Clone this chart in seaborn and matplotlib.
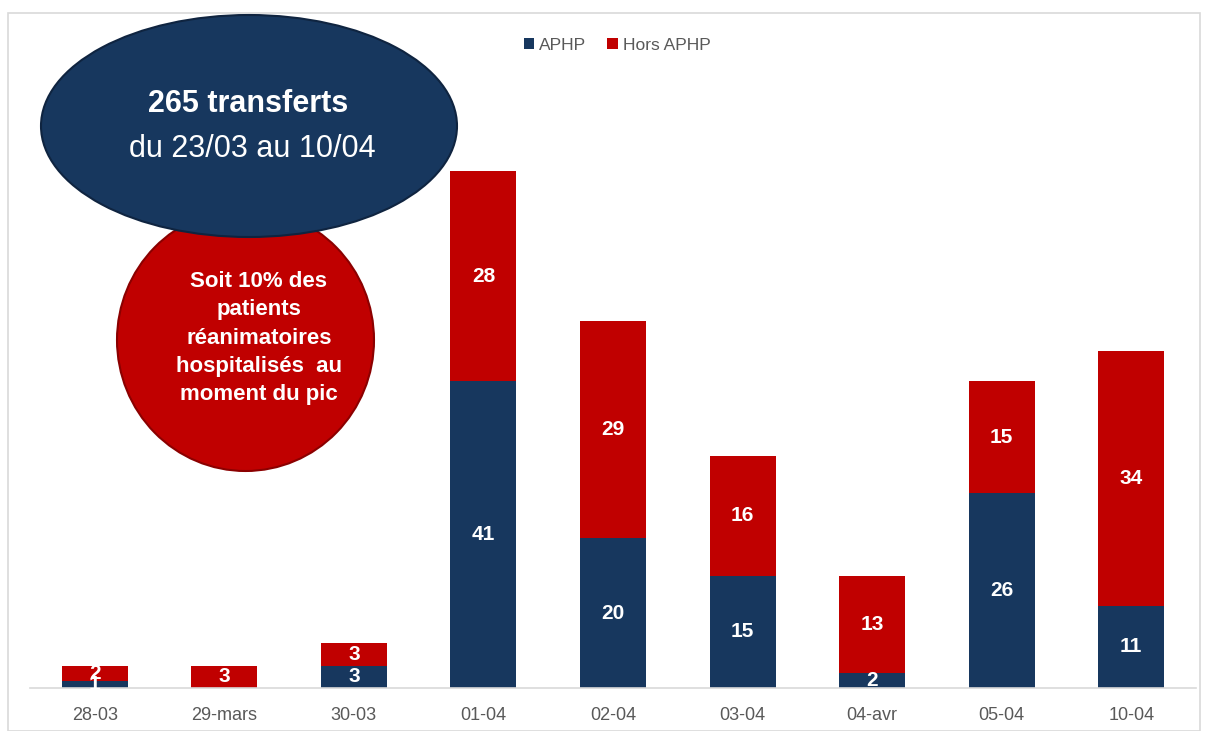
import matplotlib
matplotlib.use("Agg")
import matplotlib.pyplot as plt
from matplotlib.patches import Ellipse, Rectangle
import seaborn as sns
import pandas as pd

# Daily transfers, split by destination
dates = ["28-03", "29-mars", "30-03", "01-04", "02-04", "03-04", "04-avr", "05-04", "10-04"]
aphp = [1, 0, 3, 41, 20, 15, 2, 26, 11]
hors_aphp = [2, 3, 3, 28, 29, 16, 13, 15, 34]

NAVY = "#17375E"
RED = "#C00000"
GREY = "#595959"

sns.set_theme(style="white")
plt.rcParams["font.family"] = ["Liberation Sans", "DejaVu Sans"]

W, H = 1205, 731
fig = plt.figure(figsize=(W / 100, H / 100), dpi=100)

# axes in pixel terms: x 30..1196, baseline at y=688, top at y=20
px_per_unit = 7.49
ax = fig.add_axes([30 / W, (H - 688) / H, (1196 - 30) / W, (688 - 20) / H])

df = pd.DataFrame({"date": dates, "APHP": aphp, "Hors APHP": hors_aphp})
df["total"] = df["APHP"] + df["Hors APHP"]

# stacked look: totals in red, APHP share drawn over them in navy
sns.barplot(data=df, x="date", y="total", color=RED, width=0.51,
            saturation=1, linewidth=0, ax=ax, label="Hors APHP")
sns.barplot(data=df, x="date", y="APHP", color=NAVY, width=0.51,
            saturation=1, linewidth=0, ax=ax, label="APHP")

handles, labels = ax.get_legend_handles_labels()
if ax.get_legend() is not None:
    ax.get_legend().remove()

ax.set_xlim(-0.5, len(dates) - 0.5)
ax.set_ylim(0, (688 - 20) / px_per_unit)
ax.set_xlabel("")
ax.set_ylabel("")
ax.set_yticks([])
for s in ["left", "right", "top"]:
    ax.spines[s].set_visible(False)
ax.spines["bottom"].set_color("#D9D9D9")
ax.spines["bottom"].set_linewidth(1.2)
ax.tick_params(axis="x", length=0, pad=14, labelsize=13, labelcolor=GREY)

# segment values
for i, (a, h) in enumerate(zip(aphp, hors_aphp)):
    if a > 0:
        ax.text(i, a / 2, str(a), ha="center", va="center", color="white",
                fontsize=15, fontweight="bold")
    if h > 0:
        ax.text(i, a + h / 2, str(h), ha="center", va="center", color="white",
                fontsize=15, fontweight="bold")

# legend
order = [labels.index("APHP"), labels.index("Hors APHP")]
fig.legend([handles[k] for k in order], [labels[k] for k in order],
           loc="center", bbox_to_anchor=(617 / W, 1 - 45 / H), ncol=2,
           frameon=False, fontsize=12.5, handlelength=0.6, handleheight=0.6,
           handletextpad=0.3, columnspacing=1.2, labelcolor=GREY)

# chart frame
fig.add_artist(Rectangle((8 / W, 0), (1200 - 8) / W, (H - 13) / H,
                         transform=fig.transFigure, fill=False,
                         edgecolor="#D9D9D9", linewidth=1.2))

# callout bubbles
def fx(px):
    return px / W

def fy(py):
    return 1 - py / H

red_ell = Ellipse((fx(245.5), fy(340)), 257 / W, 262 / H, transform=fig.transFigure,
                  facecolor=RED, edgecolor="#8B0000", linewidth=1.5, zorder=5)
fig.add_artist(red_ell)
navy_ell = Ellipse((fx(249), fy(126)), 416 / W, 222 / H, transform=fig.transFigure,
                   facecolor=NAVY, edgecolor="#0F2440", linewidth=1.5, zorder=6)
fig.add_artist(navy_ell)

fig.text(fx(248), fy(104), "265 transferts", ha="center", va="center",
         color="white", fontsize=22, fontweight="bold", zorder=7)
fig.text(fx(252), fy(149), "du 23/03 au 10/04", ha="center", va="center",
         color="white", fontsize=22, zorder=7)
fig.text(fx(259), fy(338), "Soit 10% des\npatients\nréanimatoires\nhospitalisés  au\nmoment du pic",
         ha="center", va="center", color="white", fontsize=16, fontweight="bold",
         linespacing=1.45, zorder=7)

fig.savefig("out.png", dpi=100)
